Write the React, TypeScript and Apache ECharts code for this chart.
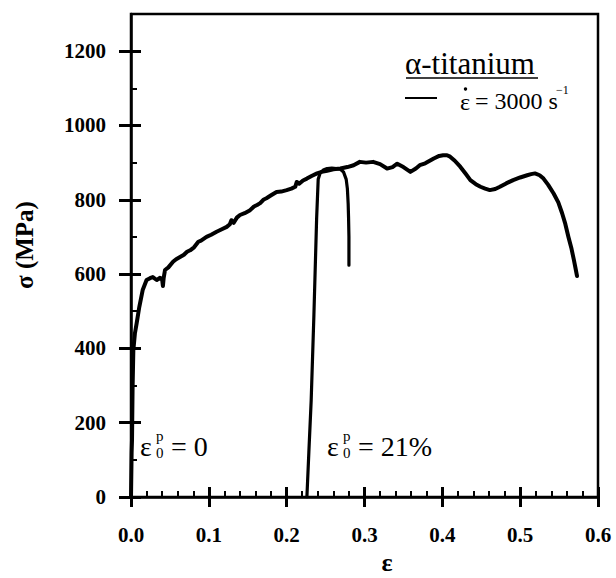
import React, { useEffect, useRef } from "react";
import * as echarts from "echarts";

// Axis ticks
const xTicks = [0, 0.1, 0.2, 0.3, 0.4, 0.5, 0.6];
const yMajorTicks = [0, 200, 400, 600, 800, 1000, 1200];
const yMinorTicks = [100, 300, 500, 700, 900, 1100];

// Stress–strain curve, initial plastic strain 0 (strain, stress in MPa)
const strainVirgin = [
  0, 0.0008, 0.0013, 0.002, 0.003, 0.005, 0.0073, 0.0107, 0.015, 0.02, 0.0244, 0.028, 0.033, 0.037,
  0.04, 0.041, 0.042, 0.0437, 0.048, 0.054, 0.058, 0.063, 0.068, 0.072, 0.076, 0.081, 0.0865, 0.09,
  0.097, 0.103, 0.11, 0.116, 0.123, 0.127, 0.129, 0.132, 0.136, 0.14, 0.146, 0.153, 0.158, 0.162,
  0.166, 0.17, 0.174, 0.18, 0.187, 0.193, 0.2, 0.206, 0.211, 0.213, 0.216, 0.221, 0.226, 0.232,
  0.239, 0.245, 0.252, 0.26, 0.269, 0.278, 0.286, 0.294, 0.302, 0.311, 0.32, 0.329, 0.336, 0.342,
  0.35, 0.359, 0.366, 0.371, 0.378, 0.389, 0.396, 0.401, 0.406, 0.41, 0.416, 0.423, 0.43, 0.436,
  0.443, 0.449, 0.455, 0.461, 0.468, 0.474, 0.482, 0.491, 0.5, 0.509, 0.514, 0.519, 0.525, 0.53,
  0.536, 0.543, 0.549, 0.554, 0.558, 0.562, 0.566, 0.569, 0.571, 0.573,
];
const stressVirgin = [
  0, 120, 153, 288, 395, 440, 468, 512, 557, 584, 589, 592, 584, 590,
  586, 568, 590, 611, 618, 633, 640, 646, 652, 660, 664, 672, 687, 690,
  700, 706, 714, 720, 727, 734, 745, 738, 752, 759, 764, 772, 782, 786,
  791, 800, 804, 812, 821, 822, 826, 830, 835, 848, 843, 852, 857, 864,
  871, 875, 878, 882, 884, 888, 893, 902, 900, 902, 896, 884, 888, 897,
  888, 875, 884, 893, 898, 911, 918, 920, 920, 916, 905, 889, 870, 853,
  842, 835, 830, 826, 829, 835, 844, 853, 860, 866, 869, 871, 866, 857,
  840, 817, 793, 763, 735, 700, 668, 638, 617, 595,
];

// Reloading curve, initial plastic strain 21%
const strainPrestrained = [
  0.226, 0.2285, 0.2315, 0.235, 0.2385, 0.2405, 0.243, 0.247, 0.252, 0.258, 0.264, 0.269, 0.273,
  0.2765, 0.278, 0.279, 0.2795, 0.28, 0.28,
];
const stressPrestrained = [
  0, 120, 260, 490, 750, 855, 872, 880, 884, 885, 884, 882, 875,
  855, 830, 790, 754, 700, 624,
];

const SERIF = "Liberation Serif";
const INK = "#000";

const App: React.FC = () => {
  const ref = useRef<HTMLDivElement>(null);

  useEffect(() => {
    document.body.style.margin = "0";
    if (!ref.current) return;
    const chart = echarts.init(ref.current, undefined, { renderer: "svg" });

    const pairs = (xs: number[], ys: number[]) => xs.map((x, i) => [x, ys[i]]);

    const tickLabel = {
      fontFamily: SERIF,
      fontWeight: "bold" as const,
      fontSize: 21,
      color: INK,
    };

    const baseX = {
      type: "value" as const,
      min: 0,
      max: 0.6,
      interval: 0.1,
      position: "bottom" as const,
      splitLine: { show: false },
    };
    const baseY = {
      type: "value" as const,
      min: 0,
      max: 1300,
      interval: 100,
      position: "left" as const,
      splitLine: { show: false },
    };

    const txt = (text: string, x: number, y: number, size: number) => ({
      type: "text",
      x,
      y,
      style: {
        text,
        fontFamily: SERIF,
        fontSize: size,
        fill: INK,
        textAlign: "left",
        textVerticalAlign: "middle",
      },
    });

    chart.setOption({
      animation: false,
      backgroundColor: "#fff",
      grid: {
        left: 131,
        right: 18,
        top: 14,
        bottom: 81,
        show: true,
        borderColor: INK,
        borderWidth: 2.5,
        backgroundColor: "transparent",
      },
      xAxis: [
        {
          // axis line and tick labels
          ...baseX,
          axisLine: { show: true, lineStyle: { color: INK, width: 2.5 } },
          axisTick: { show: false },
          axisLabel: {
            ...tickLabel,
            margin: 27,
            customValues: xTicks,
            formatter: (v: number) => v.toFixed(1),
          },
        },
        {
          // major ticks below the axis
          ...baseX,
          axisLine: { show: false },
          axisTick: { show: true, inside: false, length: 10, lineStyle: { color: INK, width: 3 } },
          axisLabel: { show: false },
        },
        {
          // major and minor ticks above the axis
          ...baseX,
          axisLine: { show: false },
          axisTick: { show: true, inside: true, length: 10, lineStyle: { color: INK, width: 3 } },
          minorTick: { show: true, splitNumber: 5, length: 6, lineStyle: { color: INK, width: 2 } },
          axisLabel: { show: false },
        },
      ],
      yAxis: [
        {
          ...baseY,
          axisLine: { show: true, lineStyle: { color: INK, width: 2.5 } },
          axisTick: {
            show: true,
            inside: false,
            length: 12,
            customValues: yMajorTicks,
            lineStyle: { color: INK, width: 3 },
          },
          axisLabel: {
            ...tickLabel,
            margin: 25,
            customValues: yMajorTicks,
            formatter: (v: number) => String(v),
          },
        },
        {
          ...baseY,
          axisLine: { show: false },
          axisTick: {
            show: true,
            inside: true,
            length: 10,
            customValues: yMajorTicks,
            lineStyle: { color: INK, width: 3 },
          },
          axisLabel: { show: false },
        },
        {
          ...baseY,
          axisLine: { show: false },
          axisTick: {
            show: true,
            inside: true,
            length: 6,
            customValues: yMinorTicks,
            lineStyle: { color: INK, width: 2 },
          },
          axisLabel: { show: false },
        },
      ],
      series: [
        {
          type: "line",
          name: "ε0p = 0",
          xAxisIndex: 0,
          yAxisIndex: 0,
          data: pairs(strainVirgin, stressVirgin),
          showSymbol: false,
          lineStyle: { color: INK, width: 4, join: "round", cap: "round" },
          z: 5,
        },
        {
          type: "line",
          name: "ε0p = 21%",
          xAxisIndex: 0,
          yAxisIndex: 0,
          data: pairs(strainPrestrained, stressPrestrained),
          showSymbol: false,
          lineStyle: { color: INK, width: 3.2, join: "round", cap: "round" },
          z: 5,
        },
      ],
      graphic: [
        // axis titles
        {
          type: "text",
          x: 24,
          y: 245,
          rotation: Math.PI / 2,
          style: {
            text: "σ (MPa)",
            fontFamily: SERIF,
            fontWeight: "bold",
            fontSize: 25,
            fill: INK,
            textAlign: "center",
            textVerticalAlign: "middle",
          },
        },
        {
          type: "text",
          x: 387,
          y: 562,
          style: {
            text: "ε",
            fontFamily: SERIF,
            fontWeight: "bold",
            fontSize: 26,
            fill: INK,
            textAlign: "center",
            textVerticalAlign: "middle",
          },
        },
        // legend block
        txt("α-titanium", 405, 63, 31),
        { type: "line", shape: { x1: 406, y1: 78, x2: 538, y2: 78 }, style: { stroke: INK, lineWidth: 1.5 } },
        { type: "line", shape: { x1: 405, y1: 98, x2: 437, y2: 98 }, style: { stroke: INK, lineWidth: 2 } },
        txt("ε", 460, 102, 24),
        { type: "circle", shape: { cx: 465.5, cy: 89, r: 1.7 }, style: { fill: INK } },
        txt("= 3000 s", 475, 101, 24),
        txt("−1", 556, 90, 12),
        // initial plastic strain labels
        txt("ε", 140, 446, 28),
        txt("p", 156, 436, 15),
        txt("0", 156, 453, 15),
        txt("= 0", 171, 446, 28),
        txt("ε", 327, 446, 28),
        txt("p", 343, 436, 15),
        txt("0", 343, 453, 15),
        txt("= 21%", 358, 446, 28),
      ],
    });

    return () => chart.dispose();
  }, []);

  return <div ref={ref} style={{ width: 616, height: 578 }} />;
};

export default App;
